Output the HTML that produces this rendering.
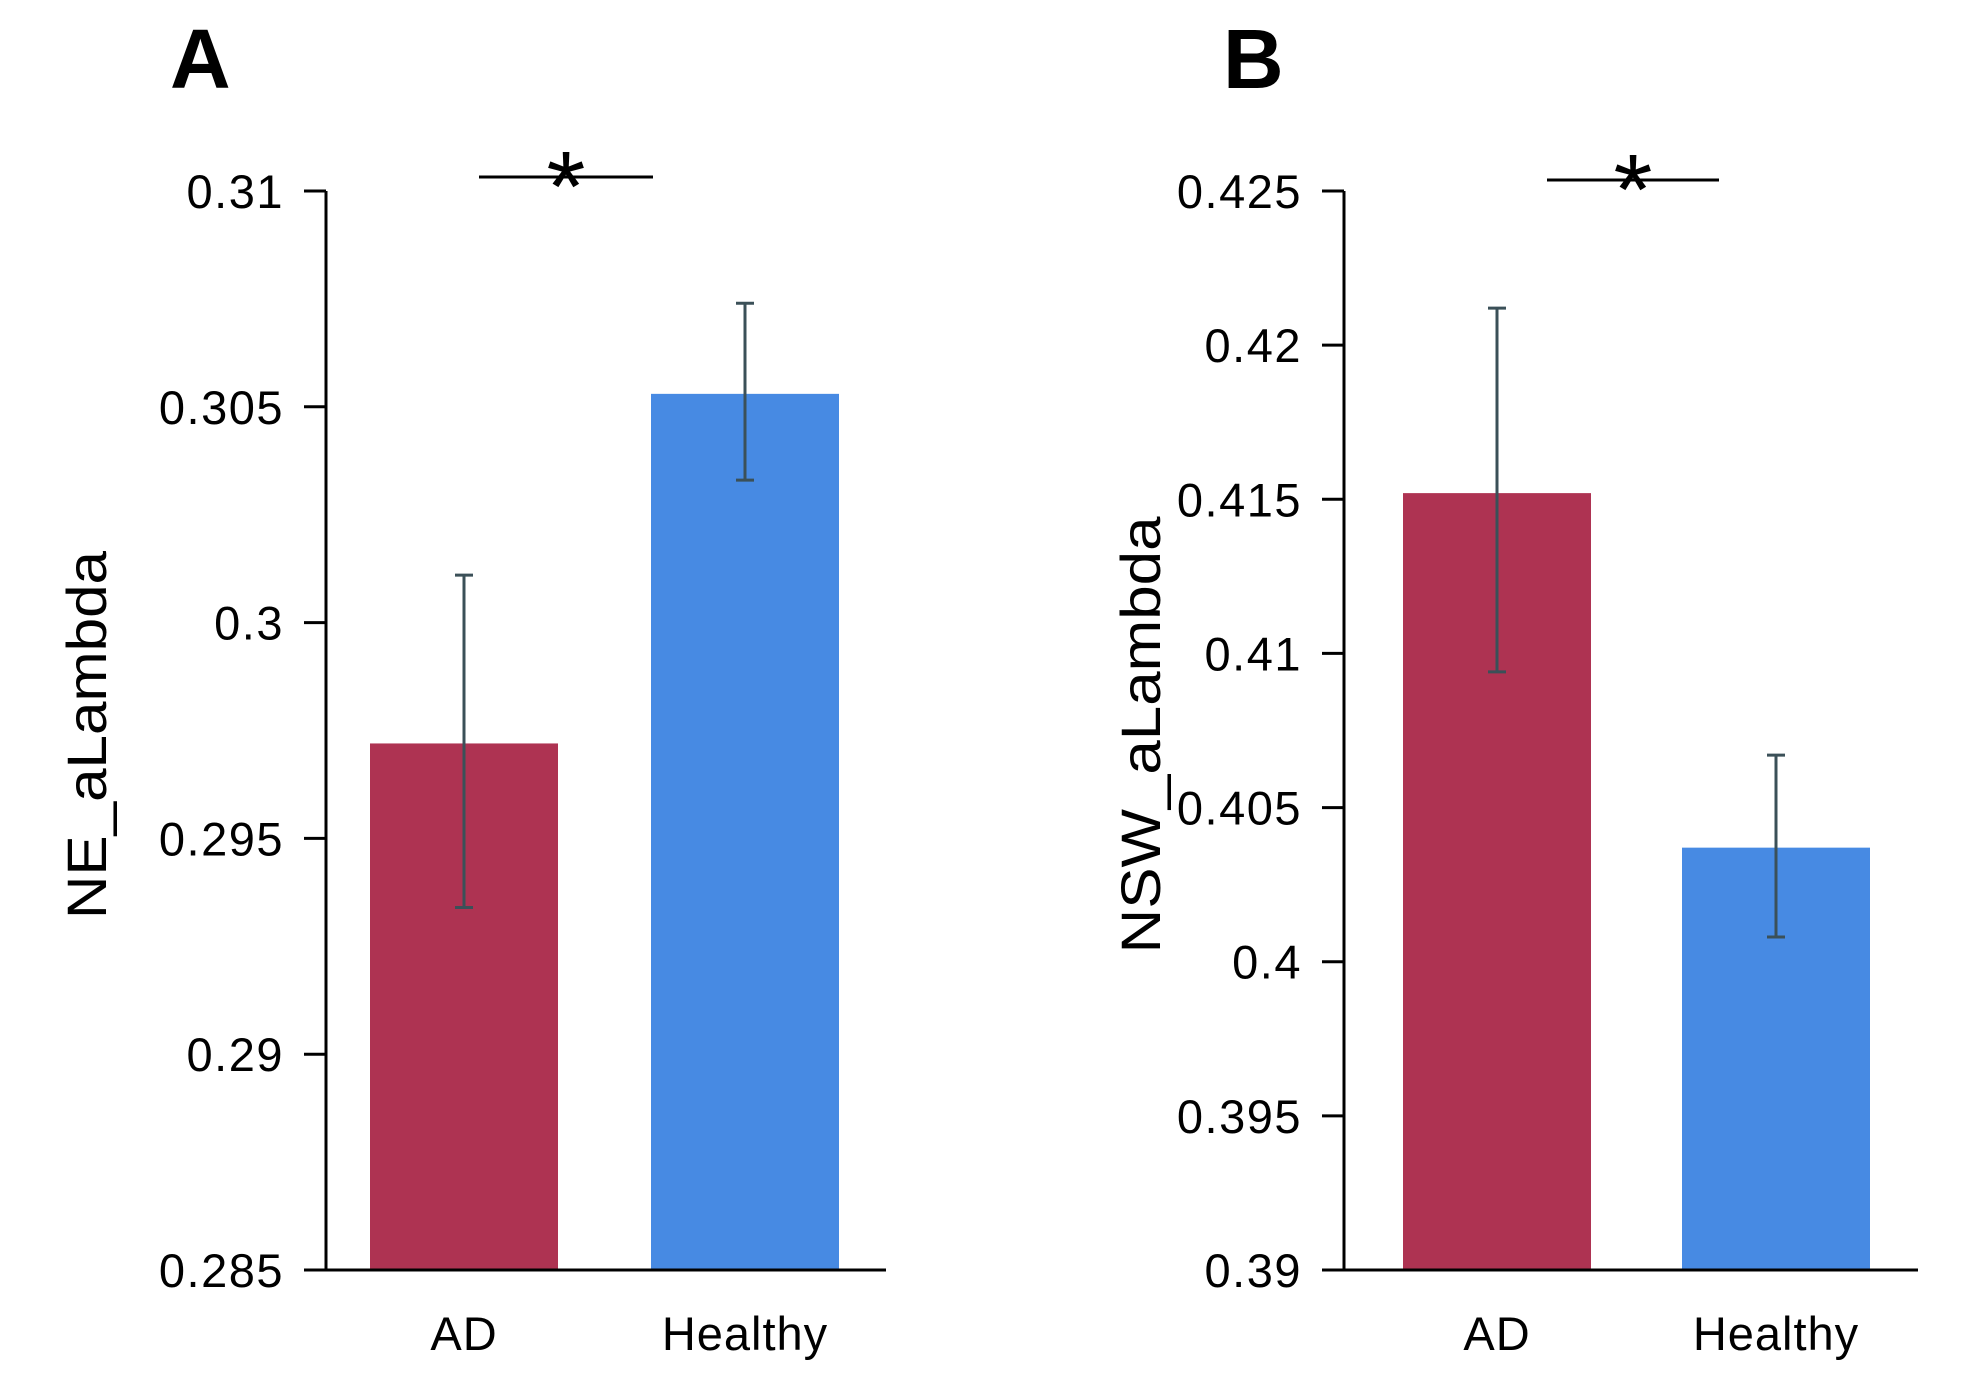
<!DOCTYPE html>
<html><head><meta charset="utf-8"><style>
html,body{margin:0;padding:0;background:#fff}
svg{display:block;font-family:"Liberation Sans",Arial,sans-serif}
</style></head><body>
<svg id="c" width="1978" height="1388" viewBox="0 0 1978 1388"></svg>
<script>
const categories = ["AD","Healthy"];
const valuesA = [0.2972, 0.3053];
const errHiA = [0.3011, 0.3074];
const errLoA = [0.2934, 0.3033];
const ticksA = [0.285,0.29,0.295,0.3,0.305,0.31];
const tickLabelsA = ["0.285","0.29","0.295","0.3","0.305","0.31"];
const valuesB = [0.4152, 0.4037];
const errHiB = [0.4212, 0.4067];
const errLoB = [0.4094, 0.4008];
const ticksB = [0.39,0.395,0.4,0.405,0.41,0.415,0.42,0.425];
const tickLabelsB = ["0.39","0.395","0.4","0.405","0.41","0.415","0.42","0.425"];
const colors = ["#AE3352","#478AE3"];
const NS="http://www.w3.org/2000/svg";
const svg=document.getElementById('c');
function mk(t,a,p){const e=document.createElementNS(NS,t);for(const k in a)e.setAttribute(k,a[k]);(p||svg).appendChild(e);return e;}
function panel(cfg){
  const g=mk('g',{});
  
  
  const y=v=>cfg.y0+(v-cfg.min)/(cfg.max-cfg.min)*(cfg.y1-cfg.y0);
  const lt=mk('text',{x:cfg.letterX,y:88,'font-size':84,'font-weight':'bold'},g);lt.textContent=cfg.letter;
  
  
  cfg.vals.forEach((v,i)=>{
    const b=mk('rect',{x:cfg.barX[i],y:y(v),width:188,height:y(cfg.min)-y(v),fill:colors[i]},g);
    
    
    const cx=cfg.barX[i]+94, hi=y(cfg.hi[i]), lo=y(cfg.lo[i]);
    const e=mk('path',{d:`M${cx},${hi}V${lo}M${cx-9},${hi}H${cx+9}M${cx-9},${lo}H${cx+9}`,stroke:'#3b5058','stroke-width':3,fill:'none'},g);
    
    
    const l=mk('text',{x:cx,y:1350,'font-size':47,'text-anchor':'middle','letter-spacing':1},g);l.textContent=categories[i];
    
    
  });
  const ya=mk('line',{x1:cfg.ax,y1:y(cfg.max),x2:cfg.ax,y2:y(cfg.min),stroke:'#000','stroke-width':3},g);
  
  
  const xa=mk('line',{x1:cfg.ax-22,y1:y(cfg.min),x2:cfg.xEnd,y2:y(cfg.min),stroke:'#000','stroke-width':3},g);
  
  
  cfg.ticks.forEach((t,i)=>{
    mk('line',{x1:cfg.ax-22,y1:y(t),x2:cfg.ax,y2:y(t),stroke:'#000','stroke-width':3},g);
    const tl=mk('text',{x:cfg.ax-42,y:y(t)+17,'font-size':47,'text-anchor':'end','letter-spacing':1.5},g);tl.textContent=cfg.labels[i];
    
    
  });
  const tt=mk('text',{x:0,y:0,'font-size':56,'text-anchor':'middle',transform:`translate(${cfg.titleX},735) rotate(-90)`,textLength:cfg.titleLen,lengthAdjust:'spacingAndGlyphs'},g);
  tt.textContent=cfg.title;
  
  
  const s=mk('line',{x1:cfg.sig[0],y1:cfg.sigY,x2:cfg.sig[1],y2:cfg.sigY,stroke:'#000','stroke-width':3},g);
  
  
  const a=mk('text',{x:(cfg.sig[0]+cfg.sig[1])/2,y:cfg.sigY+44,'font-size':100,'text-anchor':'middle'},g);a.textContent='*';
  
  
}
panel({name:'panel-a',letter:'A',letterX:170,min:0.285,max:0.31,y0:1270,y1:191,ax:326,xEnd:886,barX:[370,651],vals:valuesA,hi:errHiA,lo:errLoA,ticks:ticksA,labels:tickLabelsA,title:'NE_aLambda',titleX:106,titleLen:368,sig:[479,653],sigY:177});
panel({name:'panel-b',letter:'B',letterX:1223,min:0.39,max:0.425,y0:1270,y1:191,ax:1344,xEnd:1918,barX:[1403,1682],vals:valuesB,hi:errHiB,lo:errLoB,ticks:ticksB,labels:tickLabelsB,title:'NSW_aLambda',titleX:1160,titleLen:437,sig:[1547,1719],sigY:180});
</script>
</body></html>
